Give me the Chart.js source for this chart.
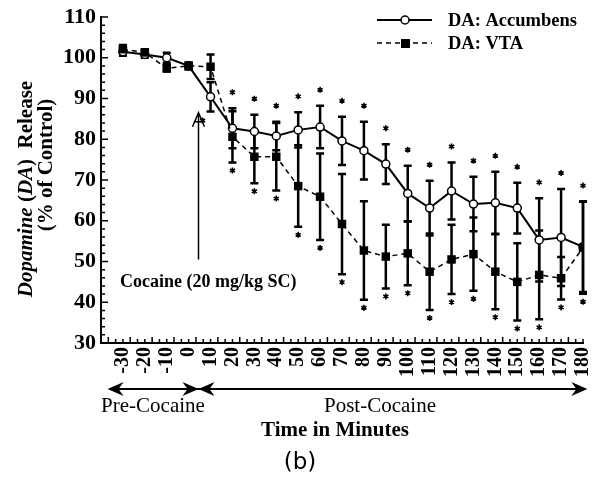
<!DOCTYPE html>
<html>
<head>
<meta charset="utf-8">
<script src="https://cdn.jsdelivr.net/npm/chart.js@4.4.1/dist/chart.umd.min.js"></script>
<style>
  body { margin: 0; background: #fff; }
</style>
</head>
<body>
<canvas id="daChart" width="597" height="484"></canvas>
<script>
// Time points (minutes relative to cocaine injection)
const minutes = [-30, -20, -10, 0, 10, 20, 30, 40, 50, 60, 70, 80, 90, 100, 110, 120, 130, 140, 150, 160, 170, 180];

// DA: Accumbens (% of control) and error
const accumbens    = [101.5, 100.8, 100.0, 98.0, 90.4, 82.7, 81.9, 80.8, 82.3, 83.0, 79.6, 77.2, 73.9, 66.7, 63.1, 67.3, 64.1, 64.4, 63.1, 55.3, 55.9, 53.6];
const accumbensErr = [1.0, 0.8, 1.2, 0.8, 3.6, 4.9, 4.1, 3.5, 4.3, 5.2, 5.9, 7.1, 4.9, 6.8, 6.7, 7.0, 6.7, 7.6, 6.2, 10.2, 11.9, 11.1];

// DA: VTA (% of control) and error
const vta    = [102.1, 101.3, 97.4, 98.0, 97.8, 80.6, 75.7, 75.7, 68.5, 65.9, 59.2, 52.7, 51.2, 52.0, 47.5, 50.5, 51.8, 47.5, 45.0, 46.7, 45.9, 53.4];
const vtaErr = [1.0, 0.8, 0.8, 0.8, 3.0, 6.3, 6.5, 8.3, 10.0, 10.6, 12.3, 12.1, 7.8, 7.8, 9.4, 8.5, 9.0, 9.2, 9.5, 10.9, 5.2, 11.3];

// significance marks (*)
const accSigAbove = [20, 30, 40, 50, 60, 70, 80, 90, 100, 110, 120, 130, 140, 150, 160, 170, 180];
const accSigBelow = [10];
const vtaSigBelow = [20, 30, 40, 50, 60, 70, 80, 90, 100, 110, 120, 130, 140, 150, 160, 170, 180];

// axis ticks
const xTickValues = [-30, -20, -10, 0, 10, 20, 30, 40, 50, 60, 70, 80, 90, 100, 110, 120, 130, 140, 150, 160, 170, 180];
const cocaineTime = 4.5;

const SERIF = '"Liberation Serif", "Times New Roman", serif';

function star(ctx, x, y) {
    ctx.save();
    ctx.lineWidth = 1.6;
    ctx.beginPath();
    for (let a = 0; a < 3; a++) {
        const t = a * Math.PI / 3 + Math.PI / 2;
        ctx.moveTo(x - 3 * Math.cos(t), y - 3 * Math.sin(t));
        ctx.lineTo(x + 3 * Math.cos(t), y + 3 * Math.sin(t));
    }
    ctx.stroke();
    ctx.beginPath();
    ctx.arc(x, y, 1.6, 0, Math.PI * 2);
    ctx.fill();
    ctx.restore();
}

function arrowHead(ctx, tipX, tipY, dir) {
    // filled notched arrowhead, dir = -1 pointing left, 1 pointing right
    ctx.beginPath();
    ctx.moveTo(tipX, tipY);
    ctx.lineTo(tipX - dir * 16, tipY - 7);
    ctx.lineTo(tipX - dir * 11, tipY);
    ctx.lineTo(tipX - dir * 16, tipY + 7);
    ctx.closePath();
    ctx.fill();
}

function richText(ctx, parts, cx, cy) {
    let total = 0;
    parts.forEach(p => { ctx.font = p[1]; total += ctx.measureText(p[0]).width; });
    let x = cx - total / 2;
    parts.forEach(p => {
        ctx.font = p[1];
        ctx.fillText(p[0], x, cy);
        x += ctx.measureText(p[0]).width;
    });
}

const decorations = {
    id: 'decorations',
    beforeDatasetsDraw(chart) {
        const ctx = chart.ctx;
        const ys = chart.scales.y;
        ctx.save();
        ctx.strokeStyle = '#000';
        ctx.lineWidth = 2.5;
        [[0, accumbens, accumbensErr], [1, vta, vtaErr]].forEach(([di, vals, errs]) => {
            const meta = chart.getDatasetMeta(di);
            meta.data.forEach((pt, j) => {
                const top = ys.getPixelForValue(vals[j] + errs[j]);
                const bot = ys.getPixelForValue(vals[j] - errs[j]);
                ctx.beginPath();
                ctx.moveTo(pt.x, top); ctx.lineTo(pt.x, bot);
                ctx.moveTo(pt.x - 4, top); ctx.lineTo(pt.x + 4, top);
                ctx.moveTo(pt.x - 4, bot); ctx.lineTo(pt.x + 4, bot);
                ctx.stroke();
            });
        });
        ctx.restore();
    },
    afterDraw(chart) {
        const ctx = chart.ctx;
        const xs = chart.scales.x, ys = chart.scales.y;
        const area = chart.chartArea;
        ctx.save();
        ctx.strokeStyle = '#000';
        ctx.fillStyle = '#000';

        // inward ticks
        ctx.lineWidth = 1.5;
        ctx.beginPath();
        for (let v = 30; v <= 110; v += 2) {
            const y = ys.getPixelForValue(v);
            const len = v % 10 === 0 ? 7 : 4;
            ctx.moveTo(area.left, y); ctx.lineTo(area.left + len, y);
        }
        for (let i = 0; i <= 66; i++) {
            const x = xs.getPixelForValue(-40 + i * 10 / 3);
            const len = i % 3 === 1 ? 6 : 4;
            ctx.moveTo(x, area.bottom); ctx.lineTo(x, area.bottom - len);
        }
        ctx.stroke();

        // significance asterisks
        const acc = chart.getDatasetMeta(0).data;
        const vt = chart.getDatasetMeta(1).data;
        minutes.forEach((m, j) => {
            if (accSigAbove.includes(m)) star(ctx, acc[j].x, ys.getPixelForValue(accumbens[j] + accumbensErr[j]) - 16);
            if (accSigBelow.includes(m)) star(ctx, acc[j].x - 8, ys.getPixelForValue(accumbens[j] - accumbensErr[j]) + 9);
            if (vtaSigBelow.includes(m)) star(ctx, vt[j].x, ys.getPixelForValue(vta[j] - vtaErr[j]) + 8);
        });

        // cocaine injection arrow
        const cx = xs.getPixelForValue(cocaineTime);
        const yLow = ys.getPixelForValue(50.5), yTip = ys.getPixelForValue(86.5);
        ctx.lineWidth = 1.5;
        ctx.beginPath();
        ctx.moveTo(cx, yLow); ctx.lineTo(cx, yTip);
        ctx.moveTo(cx - 6, yTip + 14); ctx.lineTo(cx, yTip); ctx.lineTo(cx + 6, yTip + 14);
        ctx.moveTo(cx - 4, yTip + 9); ctx.lineTo(cx + 4, yTip + 9);
        ctx.stroke();

        ctx.textBaseline = 'middle';
        ctx.textAlign = 'left';
        ctx.font = 'bold 18px ' + SERIF;
        ctx.fillText('Cocaine (20 mg/kg SC)', 120, 282);

        // pre / post arrows under the axis
        const ay = 389;
        const xPre = xs.getPixelForValue(-37), xPost = xs.getPixelForValue(182);
        ctx.lineWidth = 2;
        ctx.beginPath();
        ctx.moveTo(xPre + 10, ay); ctx.lineTo(xPost - 10, ay);
        ctx.stroke();
        arrowHead(ctx, xPre, ay, -1);
        arrowHead(ctx, cx, ay, 1);
        arrowHead(ctx, cx, ay, -1);
        arrowHead(ctx, xPost, ay, 1);

        ctx.textAlign = 'center';
        ctx.font = '21px ' + SERIF;
        ctx.fillText('Pre-Cocaine', 153, 406);
        ctx.fillText('Post-Cocaine', 380, 406);
        ctx.font = 'bold 21px ' + SERIF;
        ctx.fillText('Time in Minutes', 335, 431);
        ctx.font = '23px "DejaVu Sans", sans-serif';
        ctx.fillText('(b)', 300, 463);

        // y axis title
        ctx.textAlign = 'left';
        ctx.save();
        ctx.translate(27, 189);
        ctx.rotate(-Math.PI / 2);
        richText(ctx, [
            ['Dopamine', 'italic bold 21px ' + SERIF],
            [' (', 'bold 21px ' + SERIF],
            ['DA', 'italic bold 21px ' + SERIF],
            [')  Release', 'bold 21px ' + SERIF]
        ], 0, 0);
        ctx.restore();
        ctx.save();
        ctx.translate(47, 165);
        ctx.rotate(-Math.PI / 2);
        richText(ctx, [['(% of Control)', 'bold 21px ' + SERIF]], 0, 0);
        ctx.restore();

        // legend
        ctx.lineWidth = 2;
        ctx.beginPath();
        ctx.moveTo(377, 20); ctx.lineTo(432, 20);
        ctx.stroke();
        ctx.fillStyle = '#fff';
        ctx.lineWidth = 1.5;
        ctx.beginPath(); ctx.arc(405, 20, 4, 0, Math.PI * 2); ctx.fill(); ctx.stroke();
        ctx.fillStyle = '#000';
        ctx.lineWidth = 1.5;
        ctx.setLineDash([5, 4]);
        ctx.beginPath();
        ctx.moveTo(377, 43); ctx.lineTo(432, 43);
        ctx.stroke();
        ctx.setLineDash([]);
        ctx.fillRect(401, 39, 9, 9);
        ctx.font = 'bold 18.5px ' + SERIF;
        ctx.fillText('DA: Accumbens', 448, 21);
        ctx.fillText('DA: VTA', 448, 44);

        ctx.restore();
    }
};

const ctx = document.getElementById('daChart').getContext('2d');
const daChart = new Chart(ctx, {
    type: 'line',
    data: {
        datasets: [{
            label: 'DA: Accumbens',
            data: minutes.map((m, i) => ({ x: m, y: accumbens[i] })),
            borderColor: '#000',
            borderWidth: 2,
            pointStyle: 'circle',
            pointRadius: 4,
            pointBackgroundColor: '#fff',
            pointBorderColor: '#000',
            pointBorderWidth: 1.5,
            tension: 0,
            order: 2
        }, {
            label: 'DA: VTA',
            data: minutes.map((m, i) => ({ x: m, y: vta[i] })),
            borderColor: '#000',
            borderWidth: 1.5,
            borderDash: [5, 4],
            pointStyle: 'rect',
            pointRadius: 6,
            pointBackgroundColor: '#000',
            pointBorderColor: '#000',
            pointBorderWidth: 0,
            tension: 0,
            order: 1
        }]
    },
    options: {
        responsive: false,
        animation: false,
        devicePixelRatio: 1,
        layout: { padding: { top: 17, right: 14, left: 0, bottom: 0 } },
        plugins: {
            legend: { display: false },
            tooltip: { enabled: false }
        },
        scales: {
            x: {
                type: 'linear',
                min: -40,
                max: 180,
                afterFit: s => { s.height = 141; s.paddingLeft = 0; s.paddingRight = 0; },
                afterBuildTicks: s => { s.ticks = xTickValues.map(v => ({ value: v })); },
                grid: { display: false, drawTicks: false },
                border: { display: true, color: '#000', width: 2 },
                ticks: {
                    minRotation: 90,
                    maxRotation: 90,
                    padding: 4,
                    color: '#000',
                    autoSkip: false,
                    font: { family: 'Liberation Serif', weight: 'bold', size: 20 },
                    callback: v => String(v)
                }
            },
            y: {
                min: 30,
                max: 110,
                afterFit: s => { s.width = 101; s.paddingTop = 0; s.paddingBottom = 0; },
                grid: { display: false, drawTicks: false },
                border: { display: true, color: '#000', width: 2 },
                ticks: {
                    stepSize: 10,
                    padding: 5,
                    color: '#000',
                    font: { family: 'Liberation Serif', weight: 'bold', size: 22 }
                }
            }
        }
    },
    plugins: [decorations]
});
</script>
</body>
</html>
